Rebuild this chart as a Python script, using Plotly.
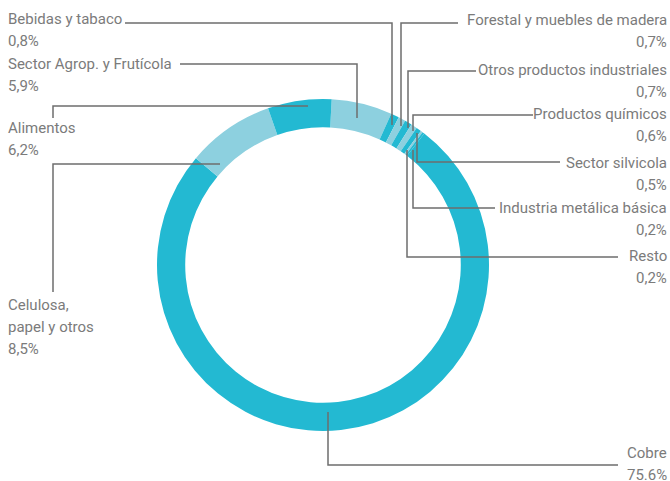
import plotly.graph_objects as go

# Participación por sector (%), en el orden en que aparecen en el anillo (sentido horario)
sectores = ['Sector Agrop. y Frutícola', 'Bebidas y tabaco', 'Forestal y muebles de madera',
            'Otros productos industriales', 'Productos químicos', 'Sector silvicola',
            'Industria metálica básica', 'Resto', 'Cobre', 'Celulosa, papel y otros', 'Alimentos']
valores = [5.9, 0.8, 0.7, 0.7, 0.6, 0.5, 0.2, 0.2, 75.6, 8.5, 6.2]
porcentajes = ['5,9%', '0,8%', '0,7%', '0,7%', '0,6%', '0,5%', '0,2%', '0,2%', '75.6%', '8,5%', '6,2%']

# Texto de cada etiqueta (líneas) tal como se muestra
lineas_etiqueta = {
    'Sector Agrop. y Frutícola': ['Sector Agrop. y Frutícola'],
    'Bebidas y tabaco': ['Bebidas y tabaco'],
    'Forestal y muebles de madera': ['Forestal y muebles de madera'],
    'Otros productos industriales': ['Otros productos industriales'],
    'Productos químicos': ['Productos químicos'],
    'Sector silvicola': ['Sector silvicola'],
    'Industria metálica básica': ['Industria metálica básica'],
    'Resto': ['Resto'],
    'Cobre': ['Cobre'],
    'Celulosa, papel y otros': ['Celulosa,', 'papel y otros'],
    'Alimentos': ['Alimentos'],
}

W, H = 670, 481
OSCURO = '#23b9d2'
CLARO = '#8dd0df'
GRIS_TEXTO = '#7b7b7b'
GRIS_LINEA = '#6e6e6e'

colores = [CLARO, OSCURO, CLARO, OSCURO, CLARO, OSCURO, CLARO, OSCURO, OSCURO, CLARO, OSCURO]

# Posición de etiquetas: (x, y primera línea, alineación) y trazo de la línea guía (px)
layout_etiquetas = {
    'Bebidas y tabaco': (7, 19, 'left', [(125, 23), (392, 23), (392, 125)]),
    'Sector Agrop. y Frutícola': (7, 64, 'left', [(180, 64), (357, 64), (357, 118)]),
    'Alimentos': (7, 128, 'left', [(53, 118), (53, 106), (308, 106)]),
    'Celulosa, papel y otros': (7, 305, 'left', [(53, 292), (53, 164), (220, 164)]),
    'Cobre': (668, 453, 'right', [(328, 412), (328, 465), (618, 465)]),
    'Forestal y muebles de madera': (668, 20, 'right', [(458, 23), (401, 23), (401, 126)]),
    'Otros productos industriales': (668, 70, 'right', [(476, 71), (408, 71), (408, 128)]),
    'Productos químicos': (668, 114, 'right', [(533, 115), (413, 115), (413, 131)]),
    'Sector silvicola': (668, 163, 'right', [(560, 162), (417, 162), (417, 133)]),
    'Industria metálica básica': (668, 208, 'right', [(495, 208), (413, 208), (413, 150)]),
    'Resto': (668, 256, 'right', [(618, 257), (407, 257), (407, 150)]),
}

cx, cy, r = 323, 265, 166

fig = go.Figure()
fig.add_trace(go.Pie(
    labels=sectores,
    values=valores,
    sort=False,
    direction='clockwise',
    rotation=3,
    hole=0.83,
    marker=dict(colors=colores, line=dict(width=0)),
    textinfo='none',
    hoverinfo='label+value',
    showlegend=False,
    domain=dict(x=[(cx - r) / W, (cx + r) / W], y=[1 - (cy + r) / H, 1 - (cy - r) / H]),
))

# eje invisible en píxeles para dibujar líneas guía y textos
fig.add_trace(go.Scatter(x=[0, W], y=[0, H], mode='markers', marker=dict(opacity=0),
                         hoverinfo='skip', showlegend=False))

anotaciones = []
formas = []
for sector, pct in zip(sectores, porcentajes):
    x, y0, alin, trazo = layout_etiquetas[sector]
    lineas = lineas_etiqueta[sector] + [pct]
    for i, texto in enumerate(lineas):
        anotaciones.append(dict(
            x=x, y=y0 + 22 * i, xref='x', yref='y', text=texto, showarrow=False,
            xanchor=alin, yanchor='middle', borderpad=0,
            font=dict(family='Roboto', size=15, color=GRIS_TEXTO)))
    camino = 'M ' + ' L '.join(f'{px},{py}' for px, py in trazo)
    formas.append(dict(type='path', path=camino, xref='x', yref='y',
                       line=dict(color=GRIS_LINEA, width=1.5), layer='above'))

fig.update_layout(
    width=W, height=H,
    margin=dict(l=0, r=0, t=0, b=0),
    paper_bgcolor='white', plot_bgcolor='rgba(0,0,0,0)',
    xaxis=dict(range=[0, W], visible=False, fixedrange=True),
    yaxis=dict(range=[H, 0], visible=False, fixedrange=True),
    annotations=anotaciones,
    shapes=formas,
)

# sin margen en el body para que el gráfico ocupe la ventana entera
fig.write_html('out.html', config={'displayModeBar': False},
               post_script="document.body.style.margin='0';"
                           "document.body.style.overflow='hidden';")
